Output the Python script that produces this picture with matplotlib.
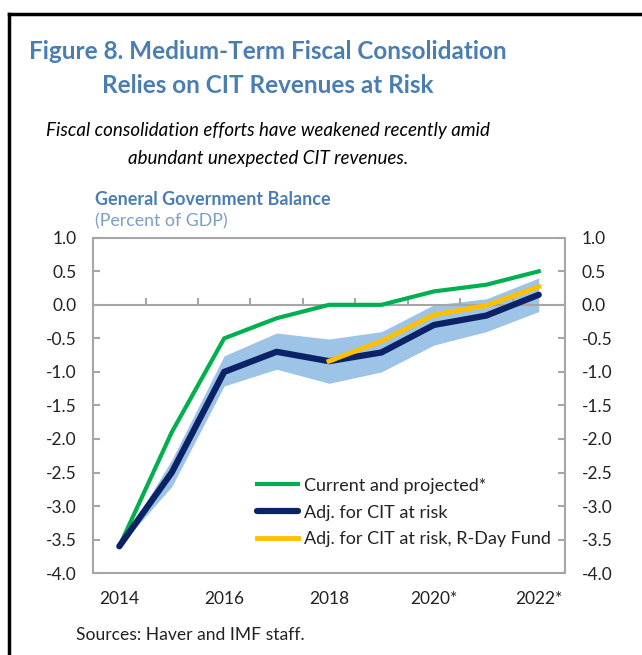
import numpy as np
import matplotlib
matplotlib.use("Agg")
import matplotlib.pyplot as plt
from matplotlib.lines import Line2D

plt.rcParams['font.family'] = ['Lato', 'DejaVu Sans']

# data
years = [2014, 2015, 2016, 2017, 2018, 2019, 2020, 2021, 2022]
current = [-3.6, -1.9, -0.5, -0.2, 0.0, 0.0, 0.2, 0.3, 0.5]
adj_cit = [-3.6, -2.5, -1.0, -0.7, -0.84, -0.71, -0.3, -0.16, 0.15]
band_hi = [-3.6, -2.31, -0.76, -0.42, -0.51, -0.4, 0.0, 0.09, 0.4]
band_lo = [-3.6, -2.71, -1.21, -0.96, -1.17, -1.0, -0.6, -0.4, -0.1]
rday_years = [2018, 2019, 2020, 2021, 2022]
adj_rday = [-0.84, -0.54, -0.15, -0.01, 0.27]
xtick_labels = ['2014', '2016', '2018', '2020*', '2022*']

GREEN = '#00B050'
NAVY = '#0B2266'
YELLOW = '#FFC000'
BAND = '#9DC3E6'
GREY = '#A6A6A6'
TITLE = '#4A7EB3'

fig = plt.figure(figsize=(6.42, 6.55), dpi=100)

# outer frame (top and left black lines)
fig.add_artist(Line2D([0.014, 1.0], [0.9786, 0.9786], color='black', lw=2.5))
fig.add_artist(Line2D([0.014, 0.014], [0.0, 0.9786], color='black', lw=2.5))

fig.text(0.417, 0.922, 'Figure 8. Medium-Term Fiscal Consolidation',
         ha='center', va='center', fontsize=17.5, fontweight='bold', color=TITLE)
fig.text(0.417, 0.869, 'Relies on CIT Revenues at Risk',
         ha='center', va='center', fontsize=17.5, fontweight='bold', color=TITLE)
fig.text(0.417, 0.801, 'Fiscal consolidation efforts have weakened recently amid',
         ha='center', va='center', fontsize=13.5, style='italic', color='black')
fig.text(0.417, 0.758, 'abundant unexpected CIT revenues.',
         ha='center', va='center', fontsize=13.5, style='italic', color='black')
fig.text(0.148, 0.695, 'General Government Balance', ha='left', va='center',
         fontsize=13, fontweight='bold', color=TITLE)
fig.text(0.148, 0.662, '(Percent of GDP)', ha='left', va='center',
         fontsize=12.8, color='#7D9EC6')
fig.text(0.118, 0.030, 'Sources: Haver and IMF staff.', ha='left', va='center',
         fontsize=12.6, color='#222222')

ax = fig.add_axes([0.145, 0.125, 0.735, 0.512])

ax.fill_between(years, band_lo, band_hi, color=BAND, lw=0, zorder=1)
ax.plot(years, current, color=GREEN, lw=3, label='Current and projected*', zorder=3)
ax.plot(years, adj_cit, color=NAVY, lw=4.5, label='Adj. for CIT at risk', zorder=3,
        solid_capstyle='round')
ax.plot(rday_years, adj_rday, color=YELLOW, lw=3.5,
        label='Adj. for CIT at risk, R-Day Fund', zorder=4)

ax.axhline(0, color=GREY, lw=1.5, zorder=2)
# small category separators on the zero line
mids = np.array(years[:-1]) + 0.5
ax.vlines(mids, 0, 0.1, color=GREY, lw=1.5, zorder=2)

ax.set_xlim(2013.5, 2022.5)
ax.set_ylim(-4, 1)
ax.set_xticks(years[::2])
ax.set_xticklabels(xtick_labels)
ax.set_yticks(np.arange(-4, 1.01, 0.5))
ax.set_yticklabels(['%.1f' % v for v in np.arange(-4, 1.01, 0.5)])
ax.tick_params(axis='x', length=0, pad=13, labelsize=12.5, colors='#222222')
ax.tick_params(axis='y', direction='in', length=5, width=1.5, color=GREY,
               labelsize=12.5, labelcolor='#222222', pad=12,
               left=True, right=True, labelleft=True, labelright=True)
for sp in ax.spines.values():
    sp.set_color(GREY)
    sp.set_linewidth(1.5)

leg = ax.legend(loc='lower right', bbox_to_anchor=(0.985, 0.055), frameon=False,
                fontsize=13, handlelength=2.3, handletextpad=0.3,
                labelspacing=0.6, borderaxespad=0)
for t in leg.get_texts():
    t.set_color('#222222')

fig.savefig('out.png', dpi=100)
